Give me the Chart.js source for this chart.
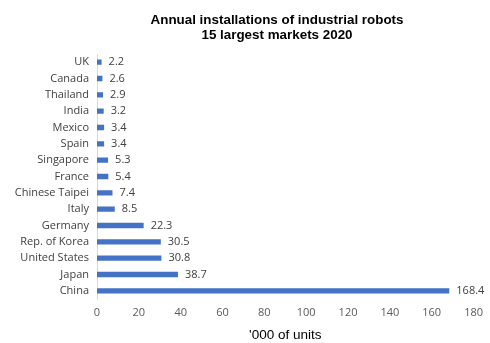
<!DOCTYPE html>
<html>
<head>
<meta charset="utf-8">
<script src="https://cdn.jsdelivr.net/npm/chart.js@4"></script>
<style>
  html, body { margin: 0; padding: 0; background: #fff; }
  #wrap { width: 490px; height: 343px; }
</style>
</head>
<body>
<div id="wrap"><canvas id="robots-chart" width="490" height="343"></canvas></div>
<script>
const markets = ['UK', 'Canada', 'Thailand', 'India', 'Mexico', 'Spain', 'Singapore', 'France',
  'Chinese Taipei', 'Italy', 'Germany', 'Rep. of Korea', 'United States', 'Japan', 'China'];
const installs = [2.2, 2.6, 2.9, 3.2, 3.4, 3.4, 5.3, 5.4, 7.4, 8.5, 22.3, 30.5, 30.8, 38.7, 168.4];
const titleLines = ['Annual installations of industrial robots', '15 largest markets 2020'];
const axisTitle = "'000 of units";

// value labels at the end of each bar
const barLabels = {
  id: 'barLabels',
  afterDatasetsDraw(chart) {
    const ctx = chart.ctx;
    const meta = chart.getDatasetMeta(0);
    ctx.save();
    ctx.font = '11px "Open Sans"';
    ctx.fillStyle = '#404040';
    ctx.textBaseline = 'middle';
    ctx.textAlign = 'left';
    meta.data.forEach((bar, i) => {
      ctx.fillText(installs[i].toFixed(1), bar.x + 7, bar.y);
    });
    ctx.restore();
  }
};

// two-line title, centred a bit left of the plot centre like the original
const chartTitle = {
  id: 'chartTitle',
  afterDraw(chart) {
    const ctx = chart.ctx;
    ctx.save();
    ctx.font = 'bold 13.4px "Liberation Sans", Arial';
    ctx.fillStyle = '#000';
    ctx.textAlign = 'center';
    ctx.textBaseline = 'middle';
    titleLines.forEach((line, i) => ctx.fillText(line, 277, 20 + i * 15));
    ctx.restore();
  }
};

const ctx = document.getElementById('robots-chart').getContext('2d');
new Chart(ctx, {
  type: 'bar',
  data: {
    labels: markets,
    datasets: [{
      data: installs,
      backgroundColor: '#4472C4',
      barPercentage: 0.33,
      categoryPercentage: 1
    }]
  },
  options: {
    indexAxis: 'y',
    responsive: false,
    animation: false,
    layout: { padding: { left: 0, right: 12, top: 54, bottom: 0 } },
    plugins: {
      legend: { display: false },
      tooltip: { enabled: false },
      title: { display: false }
    },
    scales: {
      x: {
        min: 0,
        max: 180,
        ticks: { stepSize: 20, color: '#595959', font: { family: '"Open Sans"', size: 11 }, padding: 7 },
        grid: { display: false, drawTicks: false },
        border: { display: false },
        title: {
          display: true,
          text: axisTitle,
          color: '#000',
          font: { family: '"Liberation Sans", Arial', size: 13.5 },
          padding: { top: 2, bottom: 0 }
        },
        afterFit(scale) { scale.height = 44; }
      },
      y: {
        ticks: { color: '#404040', font: { family: '"Open Sans"', size: 11 }, padding: 8 },
        grid: { display: false, drawTicks: false },
        border: { display: true, color: '#d9d9d9' },
        afterFit(scale) { scale.width = 97; }
      }
    }
  },
  plugins: [barLabels, chartTitle]
});
</script>
</body>
</html>
